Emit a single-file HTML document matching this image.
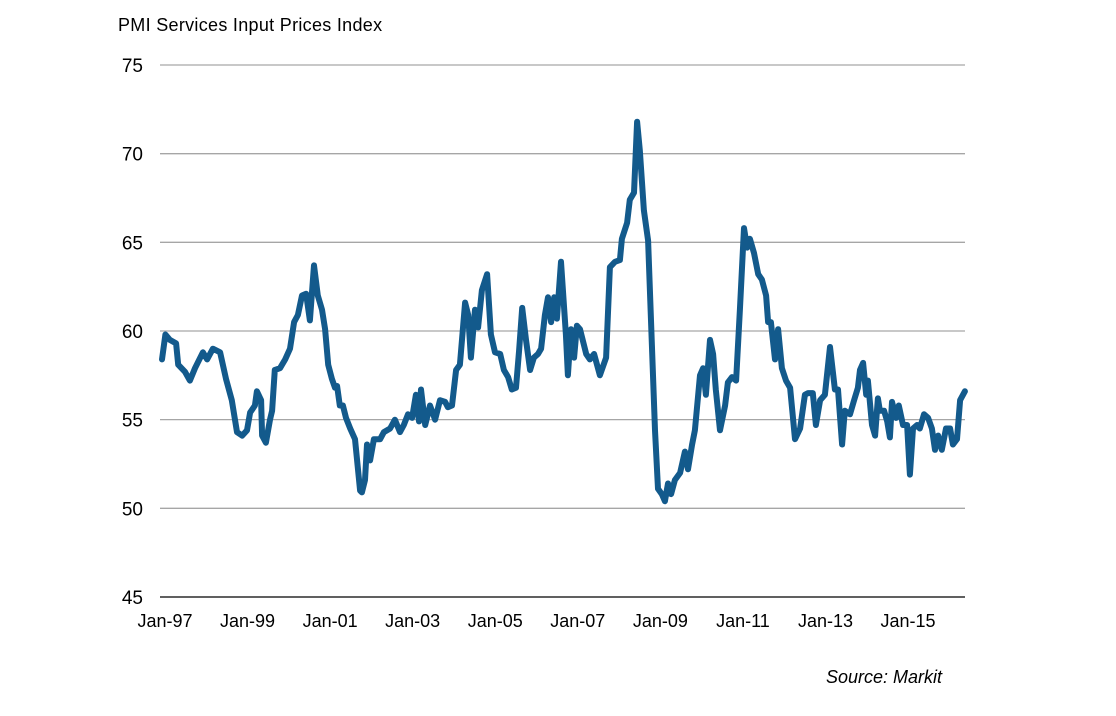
<!DOCTYPE html>
<html><head><meta charset="utf-8"><style>
body{margin:0;background:#fff;}
svg{display:block;font-family:"Liberation Sans",Arial,sans-serif;}
</style></head><body>
<svg id="chart" width="1116" height="716">
<text x="118" y="31" font-size="18" fill="#000" letter-spacing="0.3">PMI Services Input Prices Index</text>
<g id="grid"></g><g id="yt"></g><g id="xt"></g><g id="ser"></g>
<text x="942" y="683" font-size="18" font-style="italic" text-anchor="end" fill="#000">Source: Markit</text>
</svg>
<script>
const months=[0,1,2.3,4.1,4.7,6.7,8.1,9.6,11.9,13.1,14.8,16.9,18.6,20.3,21.8,23.3,24.7,25.6,27,27.6,28.8,29.1,30.2,31.4,32,32.8,34.3,35.8,37.2,38.4,39.5,40.7,41.9,43,44.2,45.3,46.5,47.4,48.3,49.4,50.3,50.9,51.7,52.6,53.5,54.7,56.1,57.6,58.1,59,59.6,60.5,61.6,63.4,64.5,66.3,67.7,69.2,70.3,71.5,72.7,73.8,74.7,75.3,76.5,77.9,79.4,80.8,82.3,83.1,84.3,85.5,86.6,88.1,89,89.8,91,91.9,93,94.5,95.6,96.8,98.3,99.4,100.6,101.7,102.9,103.8,104.7,105.8,107,108.1,109.3,110.2,111.3,112.2,113.1,114,114.8,116,117.4,118,118.9,119.8,120.6,121.5,123.3,124.4,125.6,127.3,129.1,130.2,131.7,133.1,133.7,135.2,136,137.2,138.1,138.9,140.1,141.3,142.4,143.3,144.2,145.3,146.2,147.1,148,149.1,150.6,152,152.9,154.1,154.9,156.4,157.3,158.1,159.3,160.2,161,162.2,163.7,164.5,165.7,166.9,168,169.2,170.1,170.9,172.1,173.3,174.4,175.6,176.2,177,178.2,179.1,180.2,181.4,182.6,184,185.5,186.9,187.8,189.2,190.1,191.3,192.7,194.2,195.6,196.5,197.7,198.5,200,201.2,202.3,202.9,203.8,204.7,205.2,206.4,207.3,208.1,208.7,209.9,210.8,211.6,212.2,213.4,214.2,215.4,216.6,217.4,218.3,219.5,220.3,221.5,222.7,223.8,224.7,225.6,226.7,227.9,229.1,229.9,231.1,232,233.4];
const values=[58.4,59.8,59.5,59.3,58.1,57.7,57.2,57.9,58.8,58.4,59.0,58.8,57.3,56.1,54.3,54.1,54.4,55.4,55.8,56.6,56.1,54.1,53.7,55.0,55.5,57.8,57.9,58.4,59.0,60.5,60.9,62.0,62.1,60.6,63.7,62.0,61.2,60.1,58.1,57.3,56.8,56.9,55.8,55.8,55.1,54.5,53.9,51.0,50.9,51.6,53.6,52.7,53.9,53.9,54.3,54.5,55.0,54.3,54.7,55.3,55.1,56.4,54.9,56.7,54.7,55.8,55.0,56.1,56.0,55.7,55.8,57.8,58.1,61.6,60.9,58.5,61.2,60.2,62.3,63.2,59.8,58.8,58.7,57.8,57.4,56.7,56.8,58.9,61.3,59.5,57.8,58.5,58.7,59.0,60.9,61.9,60.5,61.9,60.7,63.9,59.8,57.5,60.1,58.5,60.3,60.1,58.7,58.4,58.7,57.5,58.5,63.6,63.9,64.0,65.2,66.1,67.4,67.8,71.8,70.2,66.8,65.1,59.2,54.4,51.1,50.8,50.4,51.4,50.8,51.6,52.0,53.2,52.2,53.6,54.4,57.5,57.9,56.4,59.5,58.7,56.7,54.4,55.8,57.1,57.4,57.2,61.2,65.8,64.7,65.2,64.4,63.2,62.9,62.0,60.5,60.5,58.4,60.1,57.9,57.2,56.8,53.9,54.5,56.4,56.5,56.5,54.7,56.1,56.4,59.1,56.7,56.7,53.6,55.5,55.3,56.1,56.8,57.8,58.2,56.4,57.2,54.7,54.1,56.2,55.5,55.5,54.9,54.0,56.0,55.1,55.8,54.7,54.7,51.9,54.5,54.7,54.5,55.3,55.1,54.5,53.3,54.1,53.3,54.5,54.5,53.6,53.9,56.1,56.6];
const yTicks=[45,50,55,60,65,70,75];
const xLabels=["Jan-97","Jan-99","Jan-01","Jan-03","Jan-05","Jan-07","Jan-09","Jan-11","Jan-13","Jan-15"];
const xLabelMonths=[0,24,48,72,96,120,144,168,192,216];
const NS="http://www.w3.org/2000/svg";
const X=m=>162+m*3.44, Y=v=>65+(75-v)*17.733;
function mk(t,a,p){const e=document.createElementNS(NS,t);for(const k in a)e.setAttribute(k,a[k]);p.appendChild(e);return e;}
const grid=document.getElementById('grid'),yt=document.getElementById('yt'),xt=document.getElementById('xt'),ser=document.getElementById('ser');
yTicks.forEach(v=>{
 const l=mk('line',{x1:160,x2:965,y1:Y(v),y2:Y(v),stroke:v===45?'#000':'#a6a6a6','stroke-width':1.3},grid);
 
 
 const t=mk('text',{x:143,y:Y(v)+7,'font-size':19,'text-anchor':'end',fill:'#000'},yt);
 t.textContent=v;
 
 
});
xLabels.forEach((s,i)=>{
 const t=mk('text',{x:X(xLabelMonths[i])+3,y:627,'font-size':18,'text-anchor':'middle',fill:'#000'},xt);
 t.textContent=s;
 
 
});
const d=months.map((m,i)=>(i?'L':'M')+X(m).toFixed(1)+' '+Y(values[i]).toFixed(1)).join(' ');
const p=mk('path',{d:d,fill:'none',stroke:'#135a8c','stroke-width':6,'stroke-linejoin':'round','stroke-linecap':'round'},ser);


</script>
</body></html>
